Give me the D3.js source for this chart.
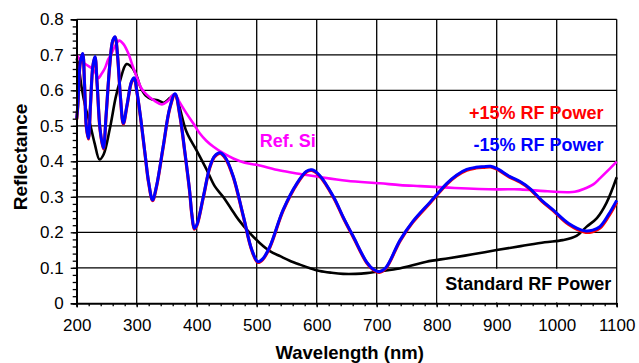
<!DOCTYPE html>
<html>
<head>
<meta charset="utf-8">
<script src="https://cdn.jsdelivr.net/npm/d3@7"></script>
<style>
  body { margin: 0; background: #fff; }
  svg { display: block; font-family: "Liberation Sans", Arial, Helvetica, sans-serif; }
</style>
</head>
<body>
<div id="chart"></div>
<script>
// axis ticks
const xTicks = [200, 300, 400, 500, 600, 700, 800, 900, 1000, 1100];
const yTicks = [0, 0.1, 0.2, 0.3, 0.4, 0.5, 0.6, 0.7, 0.8];

// Standard RF Power (black)
const stdWl = [200, 204, 208, 215, 222, 230, 238, 245, 255, 265, 272, 283, 292, 300, 306, 315, 325, 335, 345, 355, 363, 370, 383, 400, 417, 430, 444, 456, 470, 489, 505, 522, 540, 555, 572, 589, 605, 625, 644, 665, 683, 705, 728, 755, 783, 820, 860, 900, 940, 980, 1010, 1033, 1050, 1067, 1083, 1100];
const stdR = [0.69, 0.66, 0.61, 0.55, 0.507, 0.45, 0.405, 0.42, 0.49, 0.58, 0.625, 0.674, 0.665, 0.64, 0.61, 0.585, 0.575, 0.572, 0.565, 0.578, 0.588, 0.56, 0.483, 0.43, 0.375, 0.33, 0.30, 0.27, 0.235, 0.197, 0.17, 0.147, 0.132, 0.12, 0.109, 0.099, 0.091, 0.086, 0.083, 0.083, 0.085, 0.09, 0.095, 0.105, 0.117, 0.127, 0.138, 0.150, 0.161, 0.172, 0.178, 0.19, 0.216, 0.24, 0.283, 0.355];

// Ref. Si (magenta)
const siWl = [200, 204, 208, 216, 225, 231, 236, 241, 247, 252, 258, 264, 271, 278, 286, 293, 300, 308, 317, 330, 342, 352, 363, 372, 383, 395, 405, 416, 428, 445, 461, 480, 500, 539, 570, 600, 650, 705, 739, 772, 830, 900, 939, 980, 1017, 1030, 1045, 1061, 1072, 1086, 1100];
const siR = [0.70, 0.69, 0.68, 0.672, 0.662, 0.65, 0.634, 0.645, 0.662, 0.685, 0.704, 0.725, 0.74, 0.73, 0.704, 0.67, 0.638, 0.605, 0.587, 0.57, 0.56, 0.57, 0.589, 0.565, 0.535, 0.505, 0.479, 0.458, 0.441, 0.422, 0.408, 0.396, 0.39, 0.374, 0.365, 0.357, 0.345, 0.338, 0.333, 0.33, 0.325, 0.321, 0.321, 0.316, 0.313, 0.314, 0.322, 0.335, 0.352, 0.375, 0.399];

// wavelengths shared by the two RF power variants
const rfWl = [200, 202, 206, 210, 213, 216, 219.5, 223, 227, 230.5, 234, 239, 244.5, 249, 255, 260, 264, 268, 273, 277.7, 284, 291.5, 296, 300, 306, 314, 320, 326.5, 333, 344, 355, 364, 372, 380, 388, 392, 396, 400, 411, 422, 430, 439, 448, 461, 478, 492, 502, 510, 522, 544, 567, 583, 592, 605, 628, 645, 661, 683, 695, 704, 715, 739, 760, 789, 803, 817, 833, 850, 865, 878, 890, 900, 922, 939, 955, 975, 994, 1020, 1047, 1060, 1072, 1086, 1100];

// -15% RF Power (blue)
const minusR = [0.52, 0.56, 0.68, 0.704, 0.62, 0.50, 0.465, 0.56, 0.67, 0.695, 0.62, 0.49, 0.437, 0.53, 0.67, 0.74, 0.751, 0.70, 0.58, 0.507, 0.56, 0.625, 0.635, 0.60, 0.53, 0.42, 0.34, 0.291, 0.33, 0.44, 0.55, 0.59, 0.53, 0.43, 0.32, 0.25, 0.211, 0.22, 0.30, 0.385, 0.415, 0.424, 0.41, 0.357, 0.244, 0.15, 0.117, 0.125, 0.16, 0.263, 0.338, 0.372, 0.376, 0.36, 0.30, 0.24, 0.188, 0.117, 0.095, 0.089, 0.10, 0.178, 0.23, 0.285, 0.312, 0.338, 0.361, 0.377, 0.383, 0.385, 0.386, 0.38, 0.357, 0.343, 0.324, 0.29, 0.263, 0.225, 0.204, 0.206, 0.216, 0.249, 0.29];

// +15% RF Power (red), almost on top of the blue one
const plusR = [0.518, 0.558, 0.678, 0.702, 0.618, 0.498, 0.463, 0.558, 0.668, 0.693, 0.618, 0.488, 0.435, 0.528, 0.668, 0.738, 0.749, 0.698, 0.578, 0.505, 0.558, 0.623, 0.633, 0.598, 0.528, 0.418, 0.338, 0.289, 0.328, 0.438, 0.548, 0.588, 0.528, 0.428, 0.318, 0.248, 0.209, 0.218, 0.298, 0.383, 0.413, 0.422, 0.408, 0.355, 0.242, 0.148, 0.115, 0.123, 0.158, 0.261, 0.336, 0.37, 0.374, 0.358, 0.298, 0.238, 0.186, 0.115, 0.093, 0.087, 0.098, 0.176, 0.228, 0.283, 0.31, 0.336, 0.359, 0.375, 0.381, 0.383, 0.384, 0.378, 0.355, 0.341, 0.322, 0.288, 0.261, 0.222, 0.2, 0.202, 0.212, 0.244, 0.285];

const W = 639, H = 363;
const x = d3.scaleLinear().domain([200, 1100]).range([76.7, 616.7]);
const y = d3.scaleLinear().domain([0, 0.8]).range([303.3, 19.3]);

const svg = d3.select('#chart').append('svg')
  .attr('width', W)
  .attr('height', H);

// grid
const grid = svg.append('g');
grid.selectAll('line.vx')
  .data(xTicks)
  .enter().append('line')
  .attr('x1', d => x(d)).attr('x2', d => x(d))
  .attr('y1', y(0)).attr('y2', y(0.8))
  .attr('stroke', '#000').attr('stroke-width', 1.3);
grid.selectAll('line.hy')
  .data(yTicks)
  .enter().append('line')
  .attr('x1', x(200)).attr('x2', x(1100))
  .attr('y1', d => y(d)).attr('y2', d => y(d))
  .attr('stroke', '#000').attr('stroke-width', 1.3);

// curves
const line = d3.line()
  .x(d => x(d[0]))
  .y(d => y(d[1]))
  .curve(d3.curveCatmullRom.alpha(0.5));

function draw(wl, r, color, w) {
  svg.append('path')
    .attr('d', line(d3.zip(wl, r)))
    .attr('fill', 'none')
    .attr('stroke', color)
    .attr('stroke-width', w)
    .attr('stroke-linejoin', 'round');
}

// white box behind the "Standard RF Power" label
svg.append('rect')
  .attr('x', x(800) + 1).attr('y', y(0.1) + 1)
  .attr('width', x(1100) - x(800) - 2)
  .attr('height', y(0) - y(0.1) - 2)
  .attr('fill', '#fff');

draw(stdWl, stdR, '#000', 2.6);
draw(siWl, siR, '#ff00ff', 2.6);
draw(rfWl, plusR, '#ff0000', 3.2);
draw(rfWl, minusR, '#0000ff', 3.0);

// axes
const xAxis = d3.axisBottom(x).tickValues(xTicks).tickSize(4).tickPadding(12)
  .tickFormat(d3.format('d'));
const xMinor = d3.axisBottom(x).tickValues(d3.range(200, 1101, 20)).tickSize(3).tickFormat('');
const yAxis = d3.axisLeft(y).tickValues(yTicks).tickSize(6).tickPadding(7)
  .tickFormat(d => d === 0 ? '0' : d3.format('.1f')(d));
const yMinor = d3.axisLeft(y).tickValues(d3.range(0, 0.801, 0.02)).tickSize(4).tickFormat('');

[xMinor, xAxis].forEach(a => {
  svg.append('g')
    .attr('transform', 'translate(0,' + y(0) + ')')
    .call(a)
    .call(g => g.select('.domain').attr('stroke', '#000').attr('stroke-width', 1.5))
    .call(g => g.selectAll('.tick line').attr('stroke', '#000').attr('stroke-width', 1.3))
    .call(g => g.selectAll('text').attr('font-size', 17).attr('fill', '#000')
      .attr('font-family', '"Liberation Sans", Arial, sans-serif'));
});
[yMinor, yAxis].forEach(a => {
  svg.append('g')
    .attr('transform', 'translate(' + x(200) + ',0)')
    .call(a)
    .call(g => g.select('.domain').attr('stroke', '#000').attr('stroke-width', 1.5))
    .call(g => g.selectAll('.tick line').attr('stroke', '#000').attr('stroke-width', 1.3))
    .call(g => g.selectAll('text').attr('font-size', 17).attr('fill', '#000')
      .attr('font-family', '"Liberation Sans", Arial, sans-serif'));
});

// axis titles
svg.append('text')
  .attr('x', (x(200) + x(1100)) / 2 + 3)
  .attr('y', 359)
  .attr('text-anchor', 'middle')
  .attr('font-size', 18.5)
  .attr('font-weight', 'bold')
  .text('Wavelength (nm)');
svg.append('text')
  .attr('transform', 'translate(27,' + 157 + ') rotate(-90)')
  .attr('text-anchor', 'middle')
  .attr('font-size', 19)
  .attr('font-weight', 'bold')
  .text('Reflectance');

// series labels
const labels = [
  { t: '+15% RF Power', c: '#ff0000', lx: 1078, ly: 0.52, a: 'end' },
  { t: '-15% RF Power', c: '#0000ff', lx: 1078, ly: 0.428, a: 'end' },
  { t: 'Ref. Si', c: '#ff00ff', lx: 505, ly: 0.44, a: 'start' },
  { t: 'Standard RF Power', c: '#000', lx: 1091, ly: 0.038, a: 'end' }
];
svg.selectAll('text.lab')
  .data(labels)
  .enter().append('text')
  .attr('class', 'lab')
  .attr('x', d => x(d.lx))
  .attr('y', d => y(d.ly))
  .attr('text-anchor', d => d.a)
  .attr('font-size', 18)
  .attr('font-weight', 'bold')
  .attr('fill', d => d.c)
  .text(d => d.t);
</script>
</body>
</html>
